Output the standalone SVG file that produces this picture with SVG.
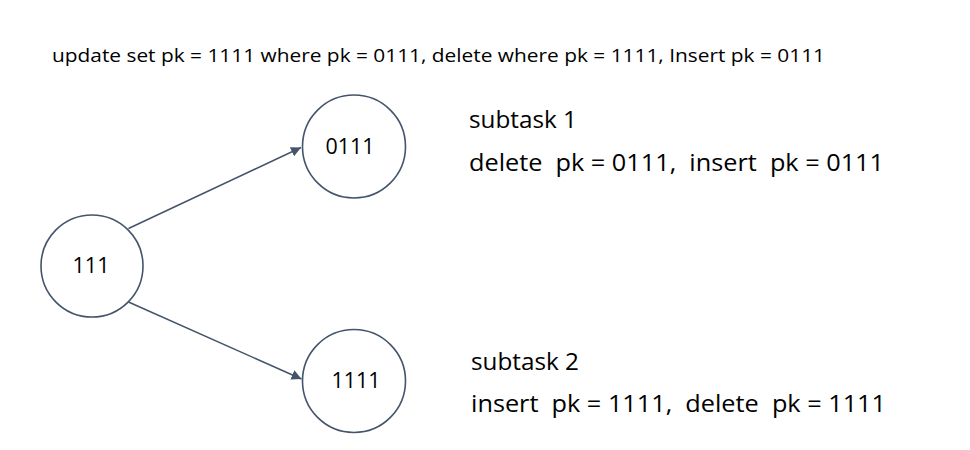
<svg xmlns="http://www.w3.org/2000/svg" width="970" height="450" viewBox="0 0 970 450">
<style>
.node{fill:#fff;stroke:#44546a;stroke-width:1.6}
.edge{fill:none;stroke:#44546a;stroke-width:1.5}
.lbl{font-family:"Open Sans","Liberation Sans",sans-serif;font-size:21px;fill:#000;text-anchor:middle}
.txt{font-family:"Open Sans","Liberation Sans",sans-serif;font-size:23px;fill:#000;white-space:pre}
.hdr{font-family:"Open Sans","Liberation Sans",sans-serif;font-size:18px;fill:#000}
</style>
<defs>
<marker id="arr" viewBox="0 0 10 10" refX="10" refY="5" markerWidth="10" markerHeight="10" markerUnits="userSpaceOnUse" orient="auto">
<path d="M0,0 L10,5 L0,10 z" fill="#44546a"/>
</marker>
</defs>
<rect width="970" height="450" fill="#fff"/>
<text class="hdr" x="52" y="62" textLength="773" lengthAdjust="spacingAndGlyphs">update set pk = 1111 where pk = 0111, delete where pk = 1111, Insert pk = 0111</text>
<g id="connectors">
<line class="edge" x1="128.5" y1="228.5" x2="301" y2="147.5" marker-end="url(#arr)"/>
<line class="edge" x1="128.5" y1="302" x2="301.5" y2="379" marker-end="url(#arr)"/>
</g>
<g id="node-111">
<circle class="node" cx="92" cy="266" r="51"/>
<text class="lbl" x="91" y="273" textLength="37" lengthAdjust="spacingAndGlyphs">111</text>
</g>
<g id="node-0111">
<circle class="node" cx="354" cy="146.5" r="51.5"/>
<text class="lbl" x="350" y="154" textLength="49" lengthAdjust="spacingAndGlyphs">0111</text>
</g>
<g id="node-1111">
<circle class="node" cx="354" cy="381" r="51.5"/>
<text class="lbl" x="356" y="388" textLength="49" lengthAdjust="spacingAndGlyphs">1111</text>
</g>
<g id="subtask1">
<text class="txt" x="469" y="128" textLength="108" lengthAdjust="spacingAndGlyphs">subtask 1</text>
<text class="txt" x="469" y="171" textLength="415" lengthAdjust="spacingAndGlyphs" xml:space="preserve">delete  pk = 0111,  insert  pk = 0111</text>
</g>
<g id="subtask2">
<text class="txt" x="471" y="370" textLength="108" lengthAdjust="spacingAndGlyphs">subtask 2</text>
<text class="txt" x="471" y="412" textLength="415" lengthAdjust="spacingAndGlyphs" xml:space="preserve">insert  pk = 1111,  delete  pk = 1111</text>
</g>
</svg>
